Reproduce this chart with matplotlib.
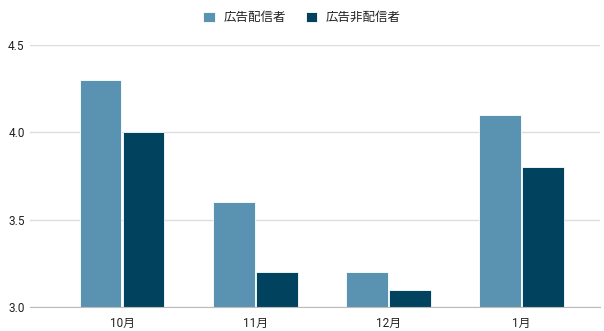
import matplotlib.pyplot as plt
import numpy as np

plt.rcParams['font.family'] = ['Roboto', 'Noto Sans CJK JP', 'DejaVu Sans']

months = ['10月', '11月', '12月', '1月']
ad_shown = [4.3, 3.6, 3.2, 4.1]
ad_not_shown = [4.0, 3.2, 3.1, 3.8]
series_names = ['広告配信者', '広告非配信者']
colors = ['#5A93B1', '#01435F']

fig = plt.figure(figsize=(6.04, 3.31), dpi=100)
ax = fig.add_axes([0.05, 0.0725, 0.943, 0.7915])

x = np.arange(len(months))
w = 0.315
gap = 0.004
ax.bar(x - w / 2 - gap, ad_shown, width=w, color=colors[0], edgecolor='white',
       linewidth=0.6, label=series_names[0], zorder=3)
ax.bar(x + w / 2 + gap, ad_not_shown, width=w, color=colors[1], edgecolor='white',
       linewidth=0.6, label=series_names[1], zorder=3)

ax.set_ylim(3.0, 4.5)
ax.set_xlim(-0.69, 3.59)
ax.set_yticks([3.0, 3.5, 4.0, 4.5])
ax.set_yticklabels(['3.0', '3.5', '4.0', '4.5'])
ax.set_xticks(x)
ax.set_xticklabels(months)
ax.grid(axis='y', color='#DDDDDD', linewidth=1, zorder=0)
ax.tick_params(axis='both', length=0, labelsize=8.5, colors='#222222')
ax.tick_params(axis='x', pad=7)
ax.tick_params(axis='y', pad=4)
for s in ['top', 'right', 'left']:
    ax.spines[s].set_visible(False)
ax.spines['bottom'].set_color('#BBBBBB')
ax.spines['bottom'].set_zorder(4)

fig.legend(loc='upper center', bbox_to_anchor=(0.5, 1.0), ncol=2, frameon=False,
           fontsize=9, handlelength=0.9, handleheight=0.9, columnspacing=1.6,
           handletextpad=0.7, labelcolor='#222222')

fig.savefig('out.png', dpi=100)
